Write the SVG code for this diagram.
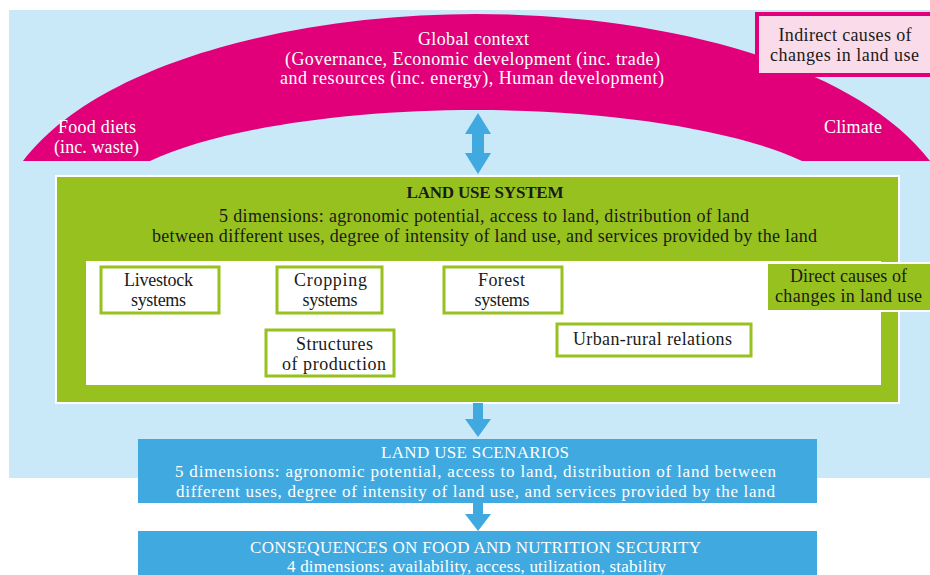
<svg xmlns="http://www.w3.org/2000/svg" width="930" height="575" viewBox="0 0 930 575">
<style>
text{font-family:"Liberation Serif","Times New Roman",serif;font-size:18px;text-anchor:middle}
.w{fill:#ffffff}
.d{fill:#1a1a1a}
.s{font-size:17px}
.sb{fill:#ffffff;stroke:#97c11f;stroke-width:3}
.arr{fill:#3fa9e0}
.blue{fill:#3fa9e0}
</style>
<rect x="0" y="0" width="930" height="575" fill="#ffffff"/>
<rect id="background" x="9" y="10" width="921" height="468" fill="#c9e8f8"/>
<g id="global-context">
<path d="M23,161 C100,60 300,14 476,14 C652,14 852,60 930,161 L802,161 C732,128 602,110 476,110 C350,110 220,128 150,161 Z" fill="#e2007a"/>
<text class="w" x="473.5" y="45" textLength="111">Global context</text>
<text class="w" x="472.5" y="65" textLength="375">(Governance, Economic development (inc. trade)</text>
<text class="w" x="472" y="84" textLength="384">and resources (inc. energy), Human development)</text>
<text class="w" x="97" y="133" textLength="78">Food diets</text>
<text class="w" x="96.5" y="153" textLength="85">(inc. waste)</text>
<text class="w" x="853" y="133" textLength="58">Climate</text>
</g>
<g id="indirect-causes">
<rect x="757" y="14" width="176" height="61" fill="#fadbe9" stroke="#e2007a" stroke-width="4"/>
<text class="d" x="845" y="41" textLength="133">Indirect causes of</text>
<text class="d" x="844.5" y="61" textLength="149">changes in land use</text>
</g>
<g id="land-use-system">
<rect x="56" y="176" width="843" height="227" fill="#97c11f" stroke="#ffffff" stroke-width="2"/>
<text class="d s" x="485" y="198" font-weight="bold" textLength="157">LAND USE SYSTEM</text>
<text class="d" x="484" y="222" textLength="530">5 dimensions: agronomic potential, access to land, distribution of land</text>
<text class="d" x="484.5" y="242" textLength="665">between different uses, degree of intensity of land use, and services provided by the land</text>
<rect x="86" y="261" width="795" height="124" fill="#ffffff"/>
</g>
<g id="livestock">
<rect class="sb" x="101" y="267" width="118" height="46"/>
<text class="d" x="158.5" y="286" textLength="69">Livestock</text>
<text class="d" x="158.5" y="306" textLength="55">systems</text>
</g>
<g id="cropping">
<rect class="sb" x="277" y="267" width="105" height="46"/>
<text class="d" x="330.5" y="286" textLength="73">Cropping</text>
<text class="d" x="330" y="306" textLength="55">systems</text>
</g>
<g id="forest">
<rect class="sb" x="444" y="267" width="118" height="46"/>
<text class="d" x="501.5" y="286" textLength="47">Forest</text>
<text class="d" x="502" y="306" textLength="55">systems</text>
</g>
<g id="structures">
<rect class="sb" x="266" y="330" width="128" height="46"/>
<text class="d" x="334.5" y="350" textLength="77">Structures</text>
<text class="d" x="334" y="370" textLength="104">of production</text>
</g>
<g id="urban-rural">
<rect class="sb" x="557" y="324" width="194" height="32"/>
<text class="d" x="652.5" y="345" textLength="159">Urban-rural relations</text>
</g>
<g id="direct-causes">
<rect x="767" y="263" width="170" height="48" fill="#97c11f" stroke="#ffffff" stroke-width="2"/>
<text class="d" x="848.5" y="282" textLength="117">Direct causes of</text>
<text class="d" x="848.5" y="302" textLength="147">changes in land use</text>
</g>
<g id="land-use-scenarios">
<rect class="blue" x="138" y="439" width="679" height="64"/>
<text class="w s" x="475" y="458" textLength="188">LAND USE SCENARIOS</text>
<text class="w s" x="475.5" y="477" textLength="601">5 dimensions:  agronomic potential, access to land, distribution of land between</text>
<text class="w s" x="475.5" y="497" textLength="599">different uses, degree of intensity of land use, and services provided by the land</text>
</g>
<g id="consequences">
<rect class="blue" x="138" y="531" width="679" height="50"/>
<text class="w s" x="475.5" y="553" textLength="451">CONSEQUENCES ON FOOD AND NUTRITION SECURITY</text>
<text class="w s" x="476.5" y="572" textLength="379">4 dimensions:  availability, access, utilization, stability</text>
</g>
<g id="connectors">
<polygon class="arr" points="478,113 491,134 484,134 484,153 491,153 478,174 465,153 472,153 472,134 465,134"/>
<polygon class="arr" points="473,403 483,403 483,419 491,419 478,437 465,419 473,419"/>
<polygon class="arr" points="473,503 483,503 483,514 491,514 478,531 465,514 473,514"/>
</g>
</svg>
